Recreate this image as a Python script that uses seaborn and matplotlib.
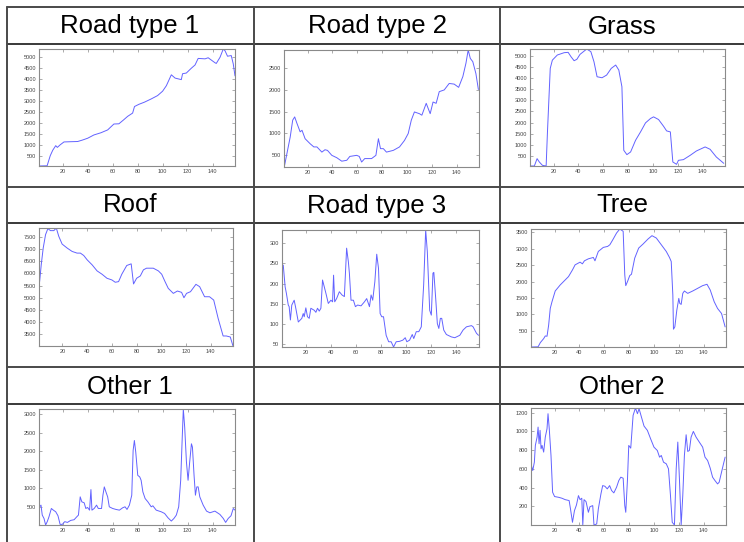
import matplotlib
matplotlib.use("Agg")
import matplotlib.pyplot as plt
from matplotlib.lines import Line2D
import seaborn as sns

# ---- spectral signatures (band index vs. intensity) ----
rt1_x = [1, 7.5, 10, 12, 14.4, 15.7, 18, 21, 26, 32, 36, 40, 45, 50.6, 56, 61, 65, 69, 72, 76,
         77.5, 81, 85.5, 91, 96, 100, 103, 107, 110, 115, 116, 119, 123, 126, 128.5, 134, 136.5,
         142, 143, 146, 148.6, 150, 152, 155, 156.6, 158]
rt1_y = [30, 40, 500, 750, 960, 880, 1000, 1130, 1140, 1150, 1220, 1300, 1450, 1550, 1680, 1950,
         1960, 2150, 2300, 2450, 2750, 2850, 2950, 3100, 3250, 3450, 3700, 4200, 4050, 3980, 4250,
         4280, 4500, 4650, 4950, 4930, 4980, 4750, 4720, 5000, 5380, 5300, 5050, 5080, 4700, 4150]

rt2_x = [1.2, 6, 8, 9.6, 11.5, 14, 15.5, 18, 22, 25, 27.5, 31.5, 34, 36, 39.5, 43.5, 47.5, 51.5,
         54, 59.5, 61.6, 63.5, 66, 71.5, 75, 77, 78.7, 81, 83.5, 89, 94, 98, 101, 103.5, 106, 110,
         112, 115.5, 118.7, 121, 123.5, 126, 130, 134, 138, 141.6, 145, 147.5, 149.3, 151, 153,
         155.5, 157.5]
rt2_y = [215, 910, 1300, 1375, 1220, 1030, 1065, 870, 755, 680, 680, 560, 615, 600, 485, 430, 350,
         370, 460, 485, 460, 330, 410, 410, 485, 870, 640, 640, 560, 600, 680, 830, 990, 1300,
         1490, 1450, 1415, 1690, 1450, 1720, 1690, 1960, 2000, 2150, 2135, 2060, 2310, 2620, 2925,
         2730, 2655, 2380, 2010]

grass_x = [1, 4.5, 6.7, 8.5, 11, 14, 15, 17.3, 19, 23, 28.5, 31.7, 34, 36.5, 38.7, 41.3, 44, 46.7,
           50, 52.5, 55, 59, 62.7, 66.4, 70, 72.5, 75, 76.5, 79, 82, 86, 90, 94, 98, 100.5, 104.5,
           108.5, 111, 114, 116, 119, 120.5, 124.5, 130, 135, 142, 146, 151, 157]
grass_y = [50, 50, 380, 230, 80, 50, 1500, 4430, 4800, 5030, 5135, 5150, 4955, 4775, 4835, 5060,
           5180, 5300, 5180, 4730, 4055, 4010, 4130, 4430, 4580, 4355, 3605, 755, 560, 680, 1205,
           1580, 1985, 2180, 2255, 2135, 1835, 1625, 1580, 230, 125, 305, 335, 530, 725, 905, 800,
           455, 170]

roof_x = [1.5, 2.8, 4.4, 6.3, 8.2, 10.3, 13, 15, 17, 19.7, 23.8, 27.8, 31.8, 34.5, 37.2, 40, 44,
          48, 52, 56, 60, 62.7, 65.4, 68, 72, 75.6, 77.5, 80, 83, 85.5, 88, 93.5, 97.6, 100.3, 103,
          105.6, 109.7, 113, 116.4, 118.3, 120.4, 123.6, 128, 131, 135, 139, 142.4, 146, 150,
          152.6, 155.8, 158]
roof_y = [5666, 6355, 7045, 7597, 7845, 7762, 7762, 7870, 7528, 7210, 7045, 6907, 6838, 6838, 6740,
          6560, 6355, 6107, 5970, 5804, 5735, 5640, 5666, 5970, 6328, 6397, 5570, 5804, 5900, 6150,
          6218, 6218, 6107, 5970, 5666, 5390, 5183, 5280, 5225, 5004, 5183, 5252, 5555, 5459, 5045,
          5045, 4907, 4150, 3432, 3432, 3390, 3020]

rt3_x = [1.3, 2, 3.5, 4.5, 6, 6.7, 7.7, 8.8, 10.7, 12, 14, 16.8, 17.9, 18.7, 20, 21.3, 22.7, 24,
         26.7, 28, 29.3, 30.7, 32, 33.3, 34.7, 36, 37.9, 40, 41.3, 42.1, 43, 44.5, 46.7, 48.8,
         50.7, 52.5, 53.9, 54.7, 56, 57.9, 59.5, 61.3, 64, 66.7, 68.5, 70.7, 72, 73.3, 75, 76.5,
         77.9, 79.2, 80.5, 81.9, 84, 86, 88, 89.9, 92, 94.7, 97.3, 99.2, 100.5, 102.7, 104.8, 106,
         108, 110, 112, 113.9, 115.5, 116.8, 118.7, 120, 121.3, 122, 123.5, 124.8, 126, 127.2,
         128.3, 129.9, 132, 136, 138.7, 142.7, 145.3, 148, 152, 153.3, 156, 157.6]
rt3_y = [242, 246, 192, 176, 147, 143, 110, 147, 159, 139, 105, 114, 126, 118, 140, 118, 114, 139,
         134, 129, 139, 132, 139, 209, 192, 176, 151, 159, 155, 221, 155, 163, 180, 172, 168, 288,
         254, 226, 159, 159, 143, 147, 145, 155, 163, 143, 172, 159, 205, 273, 238, 126, 118, 118,
         72, 56, 56, 43, 56, 57, 60, 66, 56, 60, 74, 64, 81, 81, 93, 197, 333, 280, 134, 122, 226,
         228, 163, 101, 89, 114, 114, 85, 74, 68, 66, 72, 85, 93, 96, 93, 77, 72]

tree_x = [1.3, 6.7, 8.5, 11.2, 12.5, 13.9, 15.2, 16.5, 17.9, 20.5, 24.5, 27.2, 31.2, 34.4, 36.5,
          40.5, 42.4, 44, 47.2, 51.2, 52.5, 55.2, 59.2, 62.7, 64.5, 67.2, 69.9, 72.5, 75.2, 76.5,
          77.3, 78.7, 80.5, 81.9, 84.5, 87.7, 91.2, 95.2, 98.4, 101.9, 105.9, 109.9, 112.5, 113.9,
          115.2, 115.7, 116.8, 118.4, 120, 120.8, 121.9, 123.2, 124.5, 127.2, 131.2, 135.2, 139.2,
          142.7, 145.3, 148.5, 151.2, 154.4, 157.3]
tree_y = [10, 15, 143, 265, 347, 337, 673, 1183, 1387, 1714, 1897, 2000, 2152, 2356, 2509, 2591,
          2540, 2632, 2693, 2734, 2632, 2917, 3040, 3070, 3121, 3295, 3478, 3600, 3530, 2203, 1877,
          2000, 2183, 2224, 2713, 3020, 3142, 3295, 3397, 3325, 3121, 2917, 2734, 2611, 1591, 551,
          622, 1132, 1489, 1336, 1306, 1642, 1714, 1642, 1714, 1795, 1877, 1918, 1744, 1387, 1183,
          1030, 622]

oth1_x = [1.5, 2.6, 3.6, 5, 6.3, 7.6, 9, 10.9, 12.5, 14.4, 16.2, 17.9, 19.7, 21.6, 23.8, 26.4,
          29.1, 31.3, 32.6, 34, 35.3, 37.2, 38.5, 39.9, 41.5, 42.6, 43.4, 45.2, 47.1, 48.5, 51.1,
          52.2, 53.3, 54.6, 56, 57.3, 60, 62.7, 65.4, 68, 69.9, 71.5, 73.4, 75.3, 76.4, 77.4, 78.5,
          80.1, 81.7, 82.8, 84.2, 86, 88.2, 90.9, 92.2, 94.9, 98.9, 101.6, 104.3, 107, 109.1, 111,
          112.9, 114.5, 115.6, 116.6, 117.7, 119.1, 120.4, 121.7, 123.1, 123.9, 125.2, 126.3,
          127.4, 128.5, 129.8, 132.5, 135.2, 137.9, 141.9, 145.9, 148.6, 150.5, 152.6, 154.8,
          156.6, 158]
oth1_y = [500, 545, 277, 187, 10, 100, 232, 455, 410, 366, 259, 27, 27, 100, 80, 134, 152, 232, 277,
          768, 634, 607, 455, 482, 410, 964, 410, 455, 545, 455, 455, 813, 1036, 902, 768, 500, 455,
          429, 410, 473, 500, 429, 545, 813, 2018, 2286, 1973, 1348, 1304, 1214, 902, 723, 634, 500,
          527, 410, 366, 321, 205, 116, 187, 277, 500, 1214, 2241, 3134, 2643, 1705, 1214, 1705,
          2197, 2107, 1348, 813, 1036, 1036, 768, 545, 384, 339, 384, 295, 187, 80, 187, 259, 455,
          410]

oth2_x = [1.3, 2.4, 3.7, 4.5, 5.9, 6.7, 7.5, 8.3, 9.1, 9.9, 11.2, 12.5, 13.9, 14.7, 15.7, 17.1,
          18.4, 20, 23.2, 25.9, 28.5, 31.7, 32.8, 34.4, 36, 37.6, 39.2, 40.5, 41.9, 42.7, 43.7,
          45.3, 47.2, 48.5, 50.7, 51.7, 53.9, 55.2, 57.3, 58.7, 60.5, 62.4, 64.3, 65.9, 67.7, 69.9,
          71.7, 73.3, 75.2, 76.5, 77.3, 78.7, 79.7, 81.3, 83.2, 85.1, 86.7, 88, 89.9, 92, 94.7,
          97.3, 100, 102.7, 104.5, 105.9, 107.7, 109.9, 111.7, 113.3, 114.7, 116.5, 117.9, 119.2,
          120.5, 121.9, 123.2, 124.5, 125.9, 127.2, 128.5, 129.9, 131.7, 133.9, 136.5, 139.2,
          141.1, 143.2, 145.3, 147.2, 149.1, 151.2, 152.5, 154.4, 156, 157.3]
oth2_y = [636, 582, 671, 850, 939, 1046, 868, 1011, 814, 850, 779, 939, 1029, 1189, 1029, 743, 350,
          304, 296, 286, 271, 261, 171, 29, 154, 214, 314, 271, 286, 0, 271, 250, 136, 196, 207, 0,
          11, 171, 332, 421, 414, 386, 421, 368, 343, 404, 475, 511, 500, 207, 136, 493, 850, 821,
          1171, 1250, 1189, 1243, 1154, 1057, 1011, 921, 832, 796, 725, 743, 671, 654, 600, 314,
          29, 0, 600, 886, 493, 0, 314, 743, 964, 786, 796, 939, 1000, 939, 886, 832, 725, 689, 607,
          511, 475, 439, 457, 564, 654, 725]

titles = ["Road type 1", "Road type 2", "Grass",
          "Roof", "Road type 3", "Tree",
          "Other 1", None, "Other 2"]
series = [(rt1_x, rt1_y), (rt2_x, rt2_y), (grass_x, grass_y),
          (roof_x, roof_y), (rt3_x, rt3_y), (tree_x, tree_y),
          (oth1_x, oth1_y), None, (oth2_x, oth2_y)]
y_ticks = [list(range(500, 5001, 500)), list(range(500, 2501, 500)), list(range(500, 5001, 500)),
           list(range(3500, 7501, 500)), list(range(50, 301, 50)), list(range(500, 3501, 500)),
           list(range(500, 3001, 500)), None, list(range(200, 1201, 200))]
x_ticks = [20, 40, 60, 80, 100, 120, 140]

# ---- figure / table layout (pixel units) ----
W, H = 744, 542
sns.set_style("white")
plt.rcParams["font.family"] = ["Liberation Sans", "DejaVu Sans"]
fig = plt.figure(figsize=(W / 100, H / 100), dpi=100)
fig.patch.set_facecolor("white")

col_lines = [7, 254, 500]
col_centers = [130, 377, 622]
header_rows = [(7, 44), (187, 223), (367, 404)]
axes_boxes = [(39, 49, 235, 166), (284, 50, 479, 167), (530, 49, 725, 166),
              (39, 228, 233, 346), (282, 230, 479, 347), (531, 229, 726, 347),
              (39, 409, 235, 525), None, (531, 408, 726, 525)]

LINE = "#6262ff"
FRAME = "#8a8a8a"

for i in range(9):
    if series[i] is None:
        continue
    x0, y0, x1, y1 = axes_boxes[i]
    ax = fig.add_axes([x0 / W, 1 - y1 / H, (x1 - x0) / W, (y1 - y0) / H])
    xs, ys = series[i]
    sns.lineplot(x=xs, y=ys, ax=ax, color=LINE, linewidth=0.7)
    ax.set_xlim(1, 158)
    ax.set_ylim(min(ys), max(ys))
    ax.set_xticks(x_ticks)
    ax.set_yticks(y_ticks[i])
    ax.set_xlabel("")
    ax.set_ylabel("")
    for s in ax.spines.values():
        s.set_color(FRAME)
        s.set_linewidth(0.8)
    ax.tick_params(direction="in", length=2, width=0.5, colors=FRAME,
                   labelcolor="#444444", labelsize=4.0, pad=2,
                   top=True, right=True, bottom=True, left=True)

# header titles
for i, t in enumerate(titles):
    if t is None:
        continue
    r, c = divmod(i, 3)
    base = header_rows[r][1] - 10.5
    fig.text(col_centers[c] / W, 1 - base / H, t, ha="center", va="baseline",
             fontsize=18.5, color="black")

# table rules
for top, bot in header_rows:
    for yy, col in ((top, "#3c3c3c"), (bot, "#2a2a2a")):
        fig.add_artist(Line2D([7 / W, 1], [1 - yy / H, 1 - yy / H],
                              color=col, linewidth=1.3, transform=fig.transFigure))
for xx in col_lines:
    fig.add_artist(Line2D([xx / W, xx / W], [0, 1 - 7 / H],
                          color="#4a4a4a", linewidth=1.4, transform=fig.transFigure))

fig.savefig("out.png", dpi=100, facecolor="white")
